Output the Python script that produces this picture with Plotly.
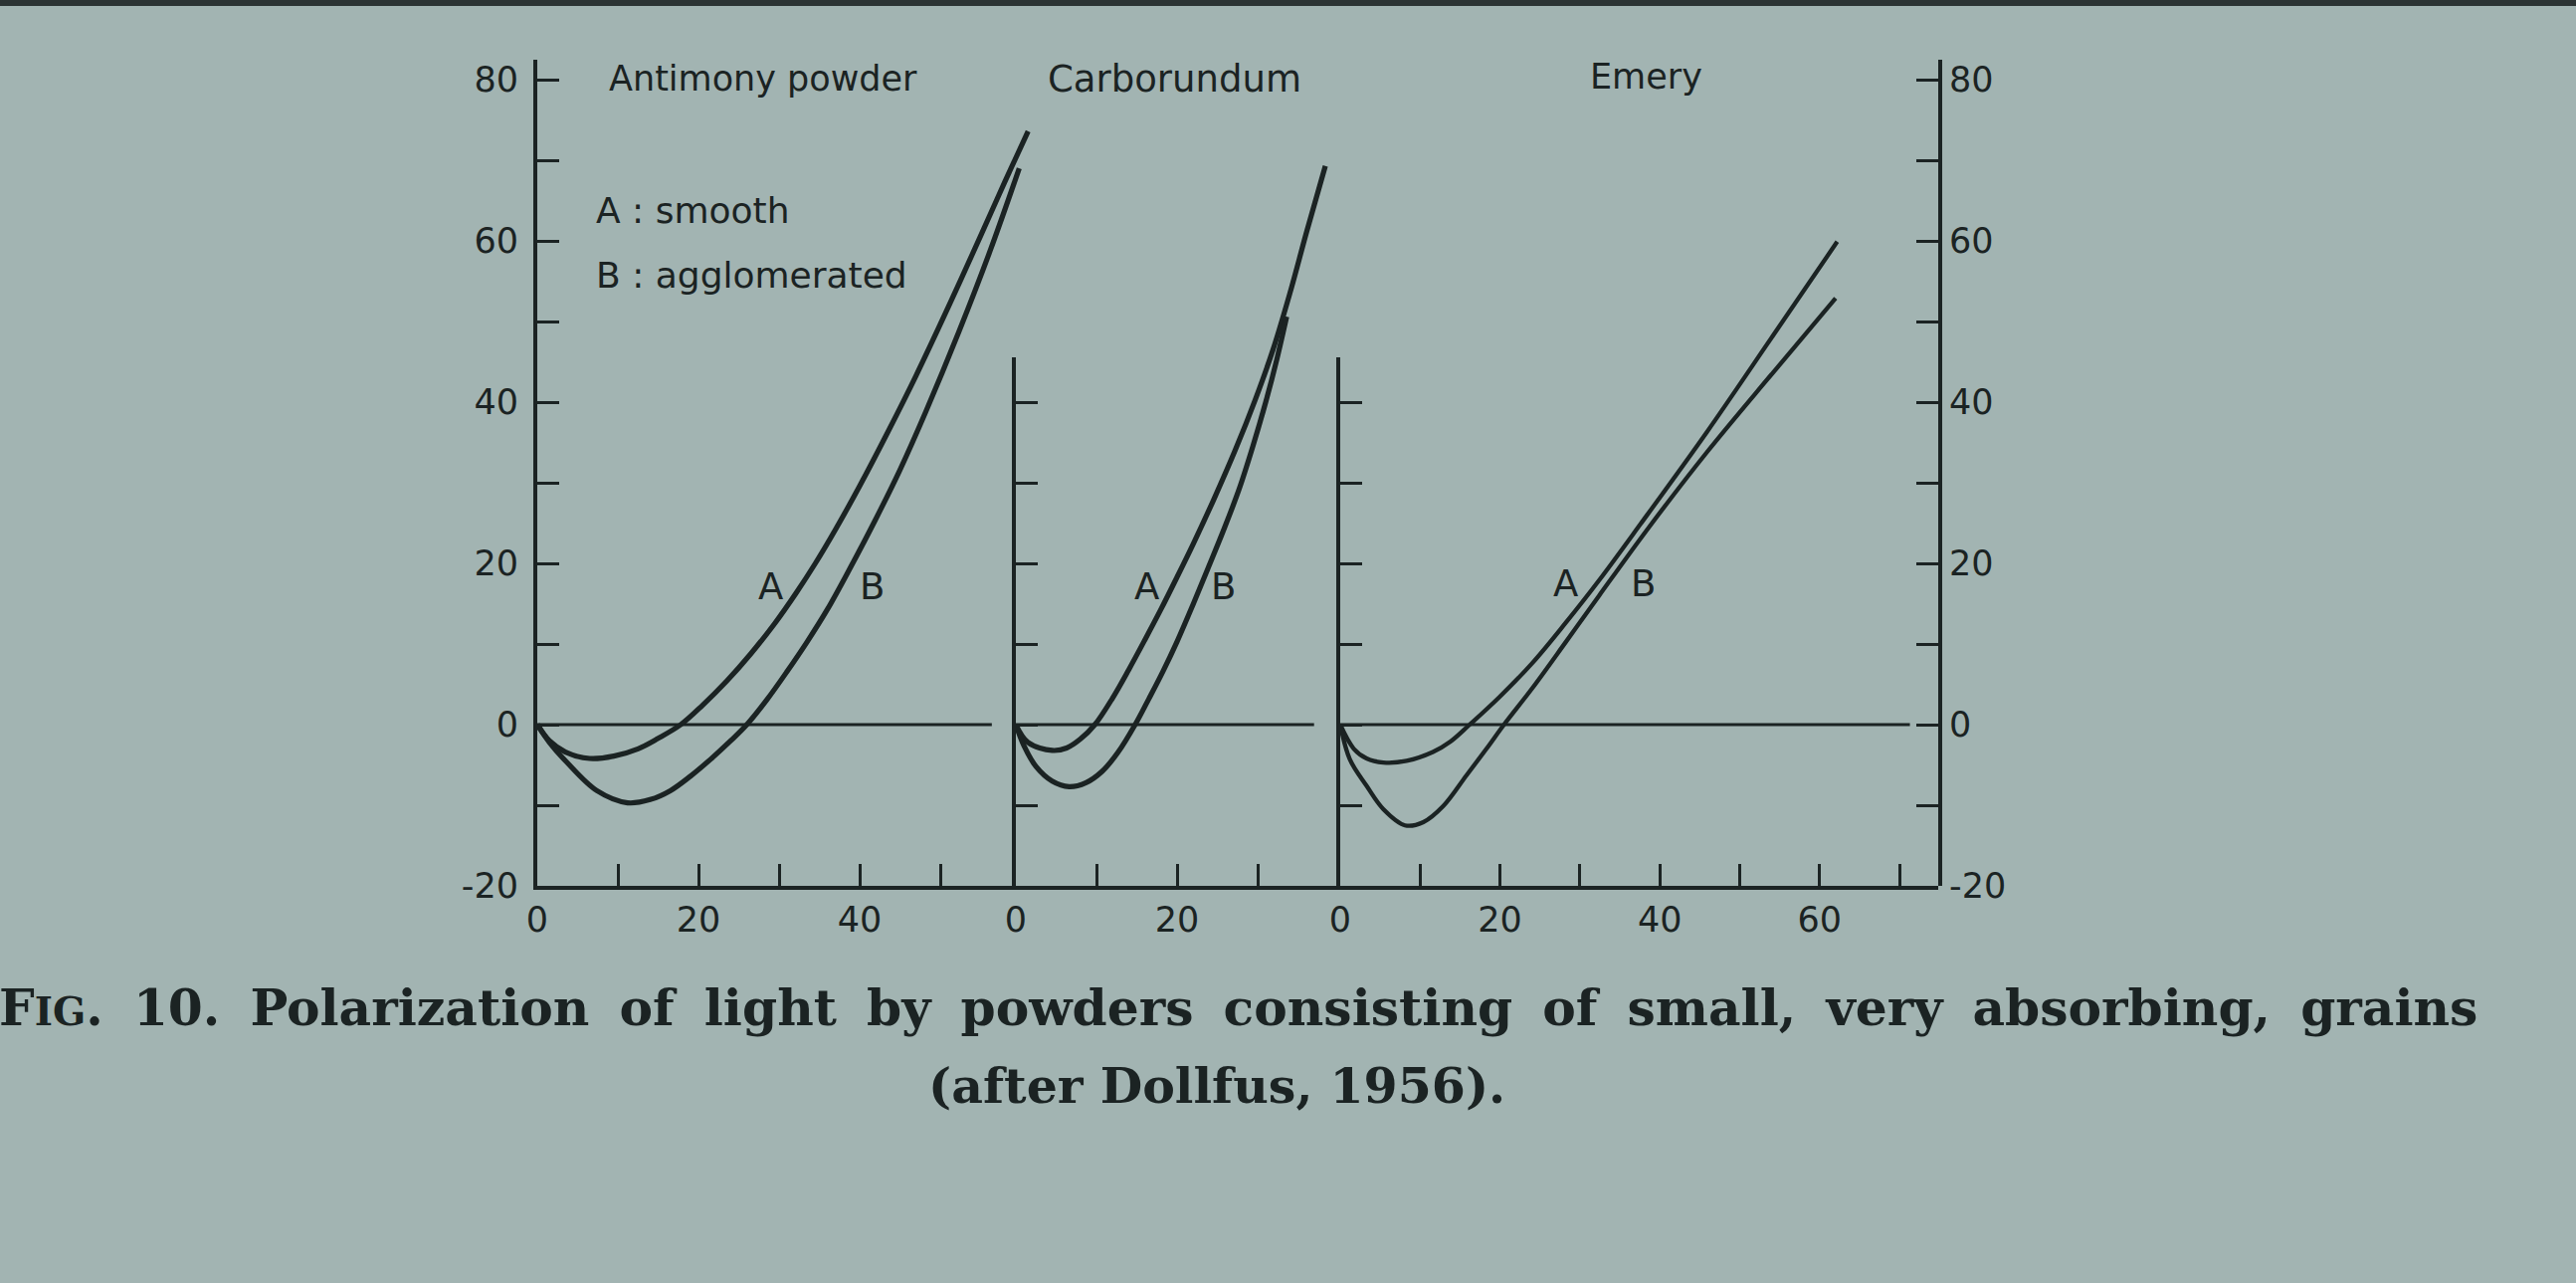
import plotly.graph_objects as go

# ---------------- data ----------------
panel_titles = ["Antimony powder", "Carborundum", "Emery"]
legend_lines = ["A : smooth", "B : agglomerated"]
curve_labels = ["A", "B"]

# Antimony powder
sb_A_x = [0, 1.5, 3.5, 6.5, 9.5, 12.5, 15.0, 17.8, 20.5, 23.5, 26.5, 29.5, 32.1, 34.5, 37.0, 40.0, 43.5, 47.0, 51.0, 55.0, 58.0, 60.9]
sb_A_y = [0, -2.0, -3.4, -4.2, -3.9, -3.0, -1.7, 0.0, 2.4, 5.4, 8.8, 12.6, 16.3, 20.0, 24.2, 29.6, 36.3, 43.3, 51.8, 60.6, 67.3, 73.6]
sb_B_x = [0, 1.5, 3.6, 7.4, 11.2, 14.0, 16.5, 19.0, 21.5, 24.0, 26.0, 28.5, 31.0, 33.5, 36.0, 38.7, 42.0, 45.0, 48.2, 52.3, 56.2, 59.8]
sb_B_y = [0, -2.2, -4.6, -8.2, -9.7, -9.3, -8.2, -6.4, -4.3, -2.0, 0.0, 3.1, 6.6, 10.3, 14.3, 19.2, 25.5, 31.6, 38.8, 48.7, 58.8, 69.0]

# Carborundum
cb_A_x = [0, 1.5, 4.5, 6.3, 8.0, 9.8, 12.0, 14.0, 16.0, 18.0, 20.0, 22.0, 24.5, 27.2, 29.7, 31.9, 34.0, 36.1, 38.4]
cb_A_y = [0, -2.2, -3.2, -2.9, -1.8, 0.0, 3.3, 6.8, 10.5, 14.3, 18.3, 22.4, 27.8, 34.0, 40.3, 46.5, 53.5, 61.2, 69.3]
cb_B_x = [0, 1.0, 2.5, 4.5, 6.6, 8.7, 10.7, 12.7, 14.8, 16.5, 18.2, 20.0, 21.9, 23.8, 25.8, 27.7, 29.4, 31.0, 32.4, 33.6]
cb_B_y = [0, -2.6, -5.2, -7.0, -7.7, -7.2, -5.8, -3.4, 0.0, 3.2, 6.5, 10.3, 14.7, 19.3, 24.2, 29.2, 34.5, 40.0, 45.4, 50.6]

# Emery
em_A_x = [0, 1.7, 3.3, 5.4, 8.3, 11.6, 13.8, 16.2, 19.9, 24.1, 28.2, 32.4, 37.6, 45.9, 54.2, 62.2]
em_A_y = [0, -3.0, -4.2, -4.7, -4.5, -3.4, -2.1, 0.0, 3.4, 7.7, 12.6, 17.9, 24.9, 36.3, 48.3, 59.9]
em_B_x = [0, 1.2, 3.3, 5.4, 8.1, 10.4, 12.9, 15.8, 18.3, 20.5, 24.1, 28.2, 32.4, 38.5, 45.9, 54.2, 62.0]
em_B_y = [0, -4.3, -7.6, -10.5, -12.5, -12.1, -10.1, -6.3, -3.0, 0.0, 4.6, 10.2, 16.0, 24.3, 33.8, 43.7, 52.9]

# curve-label anchor points (data units) per panel
label_A_x = [28.9, 16.2, 28.2]
label_A_y = [17.1, 17.1, 17.5]
label_B_x = [41.5, 25.8, 37.9]
label_B_y = [17.1, 17.1, 17.5]

# zero-line extents (x data units)
zero_line_end = [56.4, 37.0, 71.3]

# ticks
y_tick_vals = [-20, -10, 0, 10, 20, 30, 40, 50, 60, 70, 80]
y_tick_text = ["-20", "", "0", "", "20", "", "40", "", "60", "", "80"]
y_short_tick_vals = [-10, 0, 10, 20, 30, 40]
x1_tick_vals = [0, 10, 20, 30, 40, 50]
x1_tick_text = ["0", "", "20", "", "40", ""]
x2_tick_vals = [0, 10, 20, 30]
x2_tick_text = ["0", "", "20", ""]
x3_tick_vals = [0, 10, 20, 30, 40, 50, 60, 70]
x3_tick_text = ["0", "", "20", "", "40", "", "60", ""]

SP = " \u2005"   # wide (justified) word space of the caption
caption_1 = SP.join(["F<span style='font-size:39px'>IG</span>.", "10.", "Polarization", "of", "light", "by",
                     "powders", "consisting", "of", "small,", "very", "absorbing,", "grains"])
caption_2 = "(after Dollfus, 1956)."

# ---------------- layout geometry / style ----------------
W, H = 2589, 1289
BG = "#a2b4b2"
INK = "#1b2323"
SANS = "DejaVu Sans"
SERIF = "DejaVu Serif"

PXU_Y = 8.1                       # pixels per y unit
Y_ZERO = 728.0                    # pixel row of y = 0
PXU_X = [8.1, 8.1, 8.03]          # pixels per x unit in each panel
Y_MIN, Y_MAX = -20, 82.5
Y_SHORT_MAX = 45.5
P_X0 = [540.0, 1021.0, 1347.0]    # pixel column of x = 0 in each panel
RIGHT_AXIS_PX = 1948
X_MAX = [64.0, 40.7, (RIGHT_AXIS_PX - P_X0[2]) / PXU_X[2]]


def fx(p):
    return p / W


def fy(p):
    return 1 - p / H


def ypix(v):
    return Y_ZERO - v * PXU_Y


y_dom = [fy(ypix(Y_MIN)), fy(ypix(Y_MAX))]
y_short_dom = [fy(ypix(Y_MIN)), fy(ypix(Y_SHORT_MAX))]
x_doms = [[fx(x0), fx(x0 + xm * s)] for x0, xm, s in zip(P_X0, X_MAX, PXU_X)]

tick_font = dict(family=SANS, size=35, color=INK)
axis_common = dict(showgrid=False, zeroline=False, showline=True, linecolor=INK,
                   linewidth=4, ticks="inside", ticklen=22, tickwidth=3,
                   tickcolor=INK, tickfont=tick_font, fixedrange=True, automargin=False)

fig = go.Figure()

series = [
    ("x", "y", sb_A_x, sb_A_y, 5.2), ("x", "y", sb_B_x, sb_B_y, 5.2),
    ("x2", "y2", cb_A_x, cb_A_y, 5.2), ("x2", "y2", cb_B_x, cb_B_y, 5.2),
    ("x3", "y3", em_A_x, em_A_y, 4.3), ("x3", "y3", em_B_x, em_B_y, 4.3),
]
for xa, ya, xs, ys, lw in series:
    fig.add_trace(go.Scatter(x=xs, y=ys, xaxis=xa, yaxis=ya, mode="lines",
                             line=dict(color=INK, width=lw, shape="spline", smoothing=1.0),
                             hoverinfo="skip", showlegend=False))

# placeholder traces so the extra axes get their subplots
for xa, ya in [("x2", "y4"), ("x3", "y5"), ("x3", "y6")]:
    fig.add_trace(go.Scatter(x=[None], y=[None], xaxis=xa, yaxis=ya, mode="lines",
                             hoverinfo="skip", showlegend=False))

fig.update_layout(
    width=W, height=H,
    margin=dict(l=0, r=0, t=0, b=0),
    paper_bgcolor=BG, plot_bgcolor="rgba(0,0,0,0)",
    showlegend=False,
    xaxis=dict(domain=x_doms[0], range=[0, X_MAX[0]], anchor="y",
               tickvals=x1_tick_vals, ticktext=x1_tick_text, **axis_common),
    xaxis2=dict(domain=x_doms[1], range=[0, X_MAX[1]], anchor="y2",
                tickvals=x2_tick_vals, ticktext=x2_tick_text, **axis_common),
    xaxis3=dict(domain=x_doms[2], range=[0, X_MAX[2]], anchor="y3",
                tickvals=x3_tick_vals, ticktext=x3_tick_text, **axis_common),
    yaxis=dict(domain=y_dom, range=[Y_MIN, Y_MAX], anchor="x", ticklabelstandoff=8,
               tickvals=y_tick_vals, ticktext=y_tick_text, **axis_common),
    yaxis2=dict(domain=y_dom, range=[Y_MIN, Y_MAX], anchor="x2", visible=False,
                fixedrange=True, automargin=False),
    yaxis3=dict(domain=y_dom, range=[Y_MIN, Y_MAX], anchor="x3", visible=False,
                fixedrange=True, automargin=False),
    yaxis4=dict(domain=y_short_dom, range=[Y_MIN, Y_SHORT_MAX], anchor="x2",
                tickvals=y_short_tick_vals, showticklabels=False, **axis_common),
    yaxis5=dict(domain=y_short_dom, range=[Y_MIN, Y_SHORT_MAX], anchor="x3",
                tickvals=y_short_tick_vals, showticklabels=False, **axis_common),
    yaxis6=dict(domain=y_dom, range=[Y_MIN, Y_MAX], anchor="x3", side="right",
                tickvals=y_tick_vals, ticktext=y_tick_text, **axis_common),
)

# zero reference lines
shapes = []
for i, (xr, yr) in enumerate([("x", "y"), ("x2", "y2"), ("x3", "y3")]):
    shapes.append(dict(type="line", xref=xr, yref=yr, x0=0, x1=zero_line_end[i], y0=0, y1=0,
                       line=dict(color=INK, width=3), layer="below"))
# dark strip along the top edge of the slide
shapes.append(dict(type="rect", xref="paper", yref="paper", x0=0, x1=1, y0=fy(6), y1=1,
                   fillcolor="#2c3434", line=dict(width=0)))
fig.update_layout(shapes=shapes)

ann = []
# curve labels A / B
for i, (xr, yr) in enumerate([("x", "y"), ("x2", "y2"), ("x3", "y3")]):
    ann.append(dict(x=label_A_x[i], y=label_A_y[i], xref=xr, yref=yr, text=curve_labels[0],
                    showarrow=False, font=dict(family=SANS, size=37, color=INK)))
    ann.append(dict(x=label_B_x[i], y=label_B_y[i], xref=xr, yref=yr, text=curve_labels[1],
                    showarrow=False, font=dict(family=SANS, size=37, color=INK)))

# panel titles
title_px = [(767, 79, 35), (1180, 79, 37), (1654, 77, 35)]
for t, (px, py, fs) in zip(panel_titles, title_px):
    ann.append(dict(x=fx(px), y=fy(py), xref="paper", yref="paper", text=t, showarrow=False,
                    xanchor="center", yanchor="middle", font=dict(family=SANS, size=fs, color=INK)))

# legend text
for t, py in zip(legend_lines, [212, 276]):
    ann.append(dict(x=fx(597), y=fy(py), xref="paper", yref="paper", text=t, showarrow=False,
                    xanchor="left", yanchor="middle", font=dict(family=SANS, size=36, color=INK)))

# caption
ann.append(dict(x=fx(1244), y=fy(1012), xref="paper", yref="paper", text="<b>" + caption_1 + "</b>",
                showarrow=False, xanchor="center", yanchor="middle",
                font=dict(family=SERIF, size=50.3, color=INK)))
ann.append(dict(x=fx(1223), y=fy(1091), xref="paper", yref="paper", text="<b>" + caption_2 + "</b>",
                showarrow=False, xanchor="center", yanchor="middle",
                font=dict(family=SERIF, size=49, color=INK)))
fig.update_layout(annotations=ann)

fig.write_html("out.html", config={"displayModeBar": False},
               post_script="document.body.style.margin='0';document.body.style.overflow='hidden';")
